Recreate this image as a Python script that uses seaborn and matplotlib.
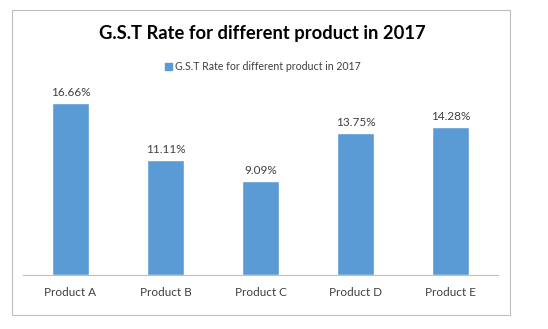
import matplotlib
matplotlib.use("Agg")
import matplotlib.pyplot as plt
import seaborn as sns
import pandas as pd
from matplotlib.patches import Rectangle, Patch

categories = ["Product A", "Product B", "Product C", "Product D", "Product E"]
values = [16.66, 11.11, 9.09, 13.75, 14.28]
labels = ["16.66%", "11.11%", "9.09%", "13.75%", "14.28%"]
series_name = "G.S.T Rate for different product in 2017"
title = "G.S.T Rate for different product in 2017"

sns.set_style("white")
plt.rcParams['font.family'] = ['Lato', 'DejaVu Sans']

df = pd.DataFrame({"Product": categories, "Rate": values})

fig = plt.figure(figsize=(5.48, 3.29), dpi=100)
ax = fig.add_axes([23/548, 1-275/329, 475/548, 186/329])
sns.barplot(data=df, x="Product", y="Rate", color="#5B9BD5", width=0.39,
            saturation=1, ax=ax)
ax.set_ylim(0, 18)
ax.set_xlim(-0.5, 4.5)
for i, (v, lab) in enumerate(zip(values, labels)):
    ax.text(i, v + 0.5, lab, ha="center", va="bottom", fontsize=8.5, color="#404040")
ax.set_yticks([])
ax.set_xlabel("")
ax.set_ylabel("")
for s in ["top", "left", "right"]:
    ax.spines[s].set_visible(False)
ax.spines["bottom"].set_color("#BFBFBF")
ax.spines["bottom"].set_linewidth(0.8)
ax.tick_params(axis="x", length=0, labelsize=8.5, labelcolor="#404040", pad=9)

fig.patches.append(Rectangle((12/548, 1-315/329), 498/548, 305/329,
                             transform=fig.transFigure, fill=False,
                             edgecolor="#BFBFBF", linewidth=0.8))
fig.text(262/548, 1-33/329, title, ha="center", va="center", fontsize=13.2,
         fontweight="bold", color="#000000")
fig.legend(handles=[Patch(color="#5B9BD5", label=series_name)],
           loc="center", bbox_to_anchor=(263/548, 1-67/329), frameon=False,
           fontsize=7.6, handlelength=0.6, handleheight=0.6, handletextpad=0.3,
           labelcolor="#404040")

fig.savefig("out.png", dpi=100, facecolor="white")
